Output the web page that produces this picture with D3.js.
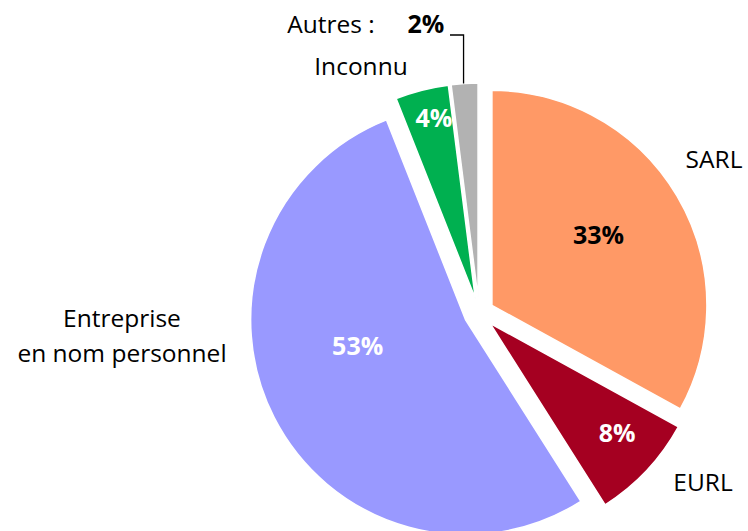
<!DOCTYPE html>
<html>
<head>
<meta charset="utf-8">
<script src="https://cdn.jsdelivr.net/npm/d3@7"></script>
<style>
  body { margin: 0; background: #fff; }
  svg { display: block; font-family: "Open Sans", "Noto Sans", sans-serif; }
</style>
</head>
<body>
<div id="chart"></div>
<script>
// données
const categories = ["SARL", "EURL", "Entreprise en nom personnel", "Inconnu", "Autres"];
const values = [33, 8, 53, 4, 2];
const colors = ["#FF9966", "#A50021", "#9999FF", "#00B050", "#B2B2B2"];
const valueColors = ["#000", "#fff", "#fff", "#fff", "#000"];

const width = 748, height = 531;
const cx = 479, cy = 313, radius = 215, explode = 15;

// placement des valeurs (angle en degrés depuis le nord, distance depuis le sommet de la part)
const valuePos = [
  { a: 56.7, r: 127.5 },
  { a: 130.8, r: 168 },
  { a: 256.6, r: 111 },
  { a: 347.1, r: 185 }
];

const svg = d3.select("#chart").append("svg")
  .attr("width", width)
  .attr("height", height);

const pie = d3.pie().sort(null).value(d => d)(values);
const arc = d3.arc().innerRadius(0).outerRadius(radius);

const g = svg.append("g").attr("transform", `translate(${cx},${cy})`);

const slices = g.selectAll("g.slice")
  .data(pie)
  .enter().append("g")
  .attr("class", "slice")
  .attr("transform", d => {
    const m = (d.startAngle + d.endAngle) / 2;
    return `translate(${Math.sin(m) * explode},${-Math.cos(m) * explode})`;
  });

slices.append("path")
  .attr("d", arc)
  .attr("fill", (d, i) => colors[i])
  .attr("stroke", "#fff")
  .attr("stroke-width", 1.5);

// valeurs dans les parts
slices.filter((d, i) => i < 4).append("text")
  .attr("x", (d, i) => Math.sin(valuePos[i].a * Math.PI / 180) * valuePos[i].r)
  .attr("y", (d, i) => -Math.cos(valuePos[i].a * Math.PI / 180) * valuePos[i].r)
  .attr("dy", "0.36em")
  .attr("text-anchor", "middle")
  .attr("font-size", 25)
  .attr("font-weight", "bold")
  .attr("fill", (d, i) => valueColors[i])
  .text(d => d.data + "%");

// étiquettes extérieures
const labelStyle = sel => sel.attr("font-size", 24.5).attr("fill", "#000").attr("text-anchor", "middle");

svg.append("text").call(labelStyle).attr("x", 714).attr("y", 168).text("SARL");
svg.append("text").call(labelStyle).attr("x", 703).attr("y", 491).text("EURL");
svg.append("text").call(labelStyle).attr("x", 122).attr("y", 327).text("Entreprise");
svg.append("text").call(labelStyle).attr("x", 122).attr("y", 362).text("en nom personnel");
svg.append("text").call(labelStyle).attr("x", 361).attr("y", 75).text("Inconnu");
svg.append("text").call(labelStyle).attr("x", 331).attr("y", 33).text("Autres :");
svg.append("text")
  .attr("x", 426).attr("y", 33).attr("text-anchor", "middle")
  .attr("font-size", 25).attr("font-weight", "bold").attr("fill", "#000")
  .text(values[4] + "%");

// trait de rappel pour "Autres"
const last = pie[4];
const lm = (last.startAngle + last.endAngle) / 2;
const tipX = cx + Math.sin(lm) * (radius + explode);
const tipY = cy - Math.cos(lm) * (radius + explode);
svg.append("path")
  .attr("d", `M450,35 H${tipX - 1} V${tipY}`)
  .attr("fill", "none")
  .attr("stroke", "#000")
  .attr("stroke-width", 1.3);
</script>
</body>
</html>
